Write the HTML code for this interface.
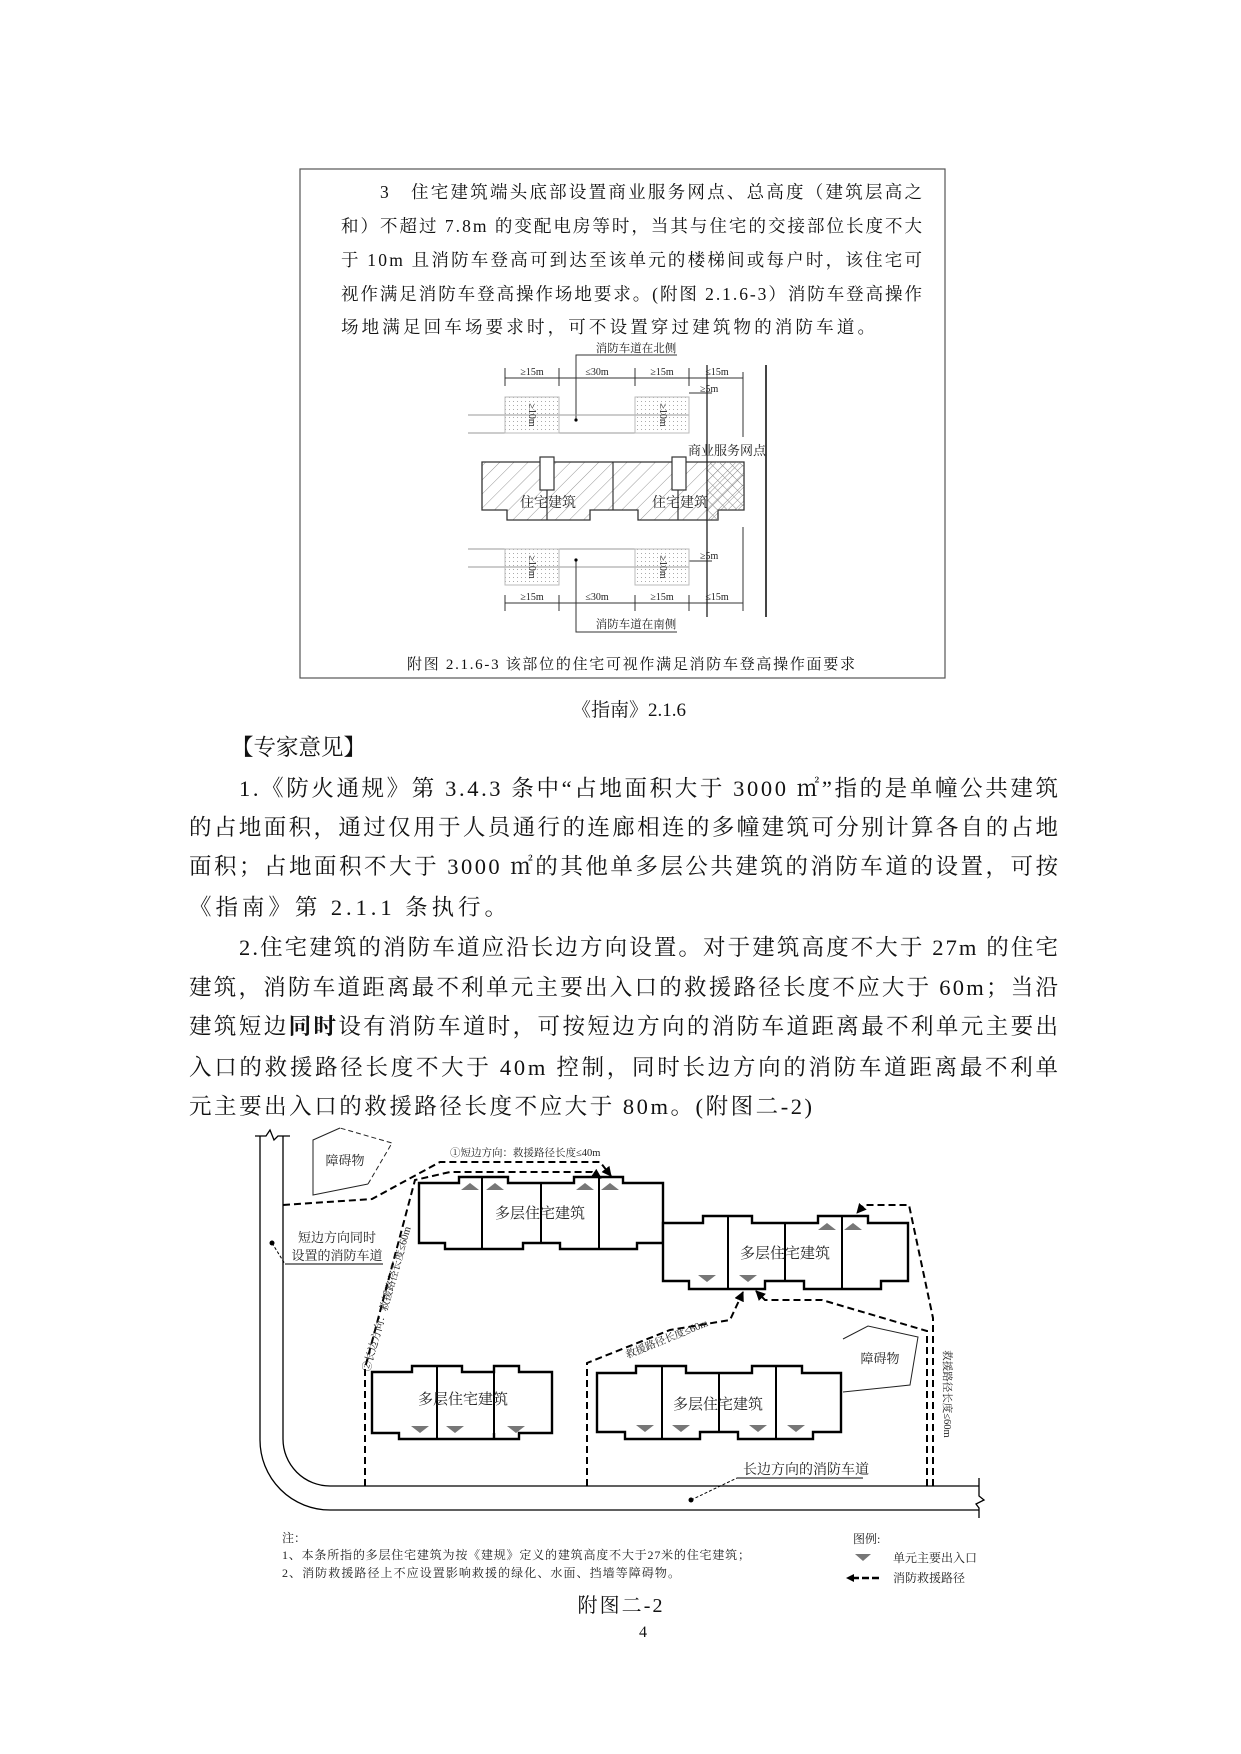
<!DOCTYPE html>
<html><head><meta charset="utf-8"><style>
html,body{margin:0;padding:0;background:#fff;}
svg{display:block;}
.t{font-family:"Liberation Serif","Noto Serif CJK SC",serif;fill:#111;}
.s{font-family:"Liberation Serif","Noto Serif CJK SC",serif;fill:#222;}
</style></head><body>
<svg width="1241" height="1754" viewBox="0 0 1241 1754" xmlns="http://www.w3.org/2000/svg">
<defs>
<pattern id="hatch" width="10" height="10" patternUnits="userSpaceOnUse" patternTransform="rotate(45)">
<line x1="0" y1="0" x2="0" y2="10" stroke="#999" stroke-width="1"/></pattern>
<pattern id="cross" width="7" height="7" patternUnits="userSpaceOnUse" patternTransform="rotate(45)">
<line x1="0" y1="0" x2="0" y2="7" stroke="#888" stroke-width="1"/><line x1="0" y1="0" x2="7" y2="0" stroke="#888" stroke-width="1"/></pattern>
<pattern id="dots" width="4" height="4" patternUnits="userSpaceOnUse">
<rect x="1" y="1" width="1" height="1" fill="#aaa"/></pattern>
<marker id="arr" viewBox="0 0 10 10" refX="9" refY="5" markerWidth="5" markerHeight="5" orient="auto">
<path d="M0,0 L10,5 L0,10 Z" fill="#000"/></marker>
</defs>

<rect x="300" y="169" width="645" height="509" fill="none" stroke="#555" stroke-width="1.2"/>
<g class="t" font-size="17.5">
<text x="380" y="198">3</text>
<text x="411" y="198" textLength="511" lengthAdjust="spacing">住宅建筑端头底部设置商业服务网点、总高度（建筑层高之</text>
<text x="341" y="232" textLength="581" lengthAdjust="spacing">和）不超过 7.8m 的变配电房等时，当其与住宅的交接部位长度不大</text>
<text x="341" y="266" textLength="581" lengthAdjust="spacing">于 10m 且消防车登高可到达至该单元的楼梯间或每户时，该住宅可</text>
<text x="341" y="300" textLength="581" lengthAdjust="spacing">视作满足消防车登高操作场地要求。(附图 2.1.6-3）消防车登高操作</text>
<text x="341" y="333" textLength="534" lengthAdjust="spacing">场地满足回车场要求时，可不设置穿过建筑物的消防车道。</text>
</g>

<g stroke="#333" fill="none" stroke-width="1">
<polyline points="576,420 576,355 677,355"/>
<line x1="505" y1="378" x2="743" y2="378"/>
<line x1="505" y1="368" x2="505" y2="386"/><line x1="559" y1="368" x2="559" y2="386"/>
<line x1="635" y1="368" x2="635" y2="386"/><line x1="689" y1="368" x2="689" y2="386"/>
<line x1="743" y1="372" x2="743" y2="437"/>
<line x1="689" y1="393" x2="712" y2="393"/>
<line x1="468" y1="415" x2="689" y2="415" stroke="#999"/>
<line x1="468" y1="433" x2="689" y2="433" stroke="#999"/>
<line x1="468" y1="549" x2="689" y2="549" stroke="#999"/>
<line x1="468" y1="567" x2="689" y2="567" stroke="#999"/>
<line x1="505" y1="603" x2="743" y2="603"/>
<line x1="505" y1="595" x2="505" y2="611"/><line x1="559" y1="595" x2="559" y2="611"/>
<line x1="635" y1="595" x2="635" y2="611"/><line x1="689" y1="595" x2="689" y2="611"/>
<line x1="743" y1="527" x2="743" y2="611"/>
<line x1="689" y1="561" x2="712" y2="561"/>
<polyline points="576,560 576,632 677,632"/>
</g>
<g stroke="#bbb" stroke-width="1">
<rect x="505" y="397" width="54" height="36" fill="url(#dots)"/>
<rect x="635" y="397" width="54" height="36" fill="url(#dots)"/>
<rect x="505" y="549" width="54" height="36" fill="url(#dots)"/>
<rect x="635" y="549" width="54" height="36" fill="url(#dots)"/>
</g>
<circle cx="576" cy="420" r="1.6" fill="#000"/><circle cx="576" cy="560" r="1.6" fill="#000"/>
<path d="M482,462 H744 V510 H718 V520 H638 V510 H590 V520 H507 V510 H482 Z" fill="url(#hatch)" stroke="#333" stroke-width="1.3"/>
<path d="M707,462 H744 V510 H718 V520 H707 Z" fill="url(#cross)" stroke="none"/>
<g stroke="#333" stroke-width="1.2" fill="#fff">
<line x1="613" y1="462" x2="613" y2="510"/>
<rect x="540" y="457" width="14" height="33"/>
<rect x="672" y="457" width="14" height="33"/>
<line x1="547" y1="490" x2="547" y2="520"/>
<line x1="678" y1="490" x2="678" y2="520"/>
</g>
<line x1="707" y1="365" x2="707" y2="617" stroke="#222" stroke-width="1.3"/>
<line x1="766" y1="365" x2="766" y2="617" stroke="#444" stroke-width="2"/>
<g class="s" font-size="11.5">
<text x="636" y="352" text-anchor="middle">消防车道在北侧</text>
<text x="636" y="628" text-anchor="middle">消防车道在南侧</text>
<text x="532" y="375" text-anchor="middle" font-size="10">≥15m</text>
<text x="597" y="375" text-anchor="middle" font-size="10">≤30m</text>
<text x="662" y="375" text-anchor="middle" font-size="10">≥15m</text>
<text x="717" y="375" text-anchor="middle" font-size="10">≤15m</text>
<text x="532" y="600" text-anchor="middle" font-size="10">≥15m</text>
<text x="597" y="600" text-anchor="middle" font-size="10">≤30m</text>
<text x="662" y="600" text-anchor="middle" font-size="10">≥15m</text>
<text x="717" y="600" text-anchor="middle" font-size="10">≤15m</text>
<text x="700" y="392" font-size="10">≥5m</text>
<text x="700" y="559" font-size="10">≥5m</text>
<text x="727" y="455" text-anchor="middle" font-size="13">商业服务网点</text>
<text x="548" y="507" text-anchor="middle" font-size="14">住宅建筑</text>
<text x="680" y="507" text-anchor="middle" font-size="14">住宅建筑</text>
<text transform="translate(529,415) rotate(90)" text-anchor="middle" font-size="10">≥10m</text>
<text transform="translate(660,415) rotate(90)" text-anchor="middle" font-size="10">≥10m</text>
<text transform="translate(529,567) rotate(90)" text-anchor="middle" font-size="10">≥10m</text>
<text transform="translate(660,567) rotate(90)" text-anchor="middle" font-size="10">≥10m</text>
</g>
<text class="t" x="407" y="669" font-size="15" textLength="448" lengthAdjust="spacing">附图 2.1.6-3  该部位的住宅可视作满足消防车登高操作面要求</text>

<text class="t" x="629" y="716" font-size="19" text-anchor="middle">《指南》2.1.6</text>

<g class="t" font-size="22.5">
<text x="231" y="755">【专家意见】</text>
<text x="239" y="796" textLength="819" lengthAdjust="spacing">1.《防火通规》第 3.4.3 条中“占地面积大于 3000 ㎡”指的是单幢公共建筑</text>
<text x="189" y="835" textLength="869" lengthAdjust="spacing">的占地面积，通过仅用于人员通行的连廊相连的多幢建筑可分别计算各自的占地</text>
<text x="189" y="874" textLength="869" lengthAdjust="spacing">面积；占地面积不大于 3000 ㎡的其他单多层公共建筑的消防车道的设置，可按</text>
<text x="189" y="915" textLength="318" lengthAdjust="spacing">《指南》第 2.1.1 条执行。</text>
<text x="239" y="955" textLength="819" lengthAdjust="spacing">2.住宅建筑的消防车道应沿长边方向设置。对于建筑高度不大于 27m 的住宅</text>
<text x="189" y="995" textLength="869" lengthAdjust="spacing">建筑，消防车道距离最不利单元主要出入口的救援路径长度不应大于 60m；当沿</text>
<text x="189" y="1034" textLength="869" lengthAdjust="spacing">建筑短边<tspan font-weight="bold">同时</tspan>设有消防车道时，可按短边方向的消防车道距离最不利单元主要出</text>
<text x="189" y="1075" textLength="869" lengthAdjust="spacing">入口的救援路径长度不大于 40m 控制，同时长边方向的消防车道距离最不利单</text>
<text x="189" y="1114" textLength="623" lengthAdjust="spacing">元主要出入口的救援路径长度不应大于 80m。(附图二-2)</text>
</g>

<g fill="none" stroke="#000" stroke-width="1.3">
<path d="M260,1136 V1440 A70,70 0 0 0 330,1510 H979"/>
<path d="M283,1136 V1439 A47,47 0 0 0 330,1486 H979"/>
<path d="M255,1136 H266 L270,1130 L274,1140 L278,1136 H290"/>
<path d="M979,1478 V1496 L984,1500 L976,1504 L979,1508 V1518"/>
</g>
<g fill="none" stroke="#222" stroke-width="1">
<polyline points="340,1128 313,1140 313,1195 368,1184"/>
<polyline points="368,1184 392,1143 340,1128" stroke-dasharray="5 3"/>
<polyline points="843,1339 868,1326 918,1337 910,1385 843,1392"/>
</g>
<g fill="#fff" stroke="#000" stroke-width="2.4">
<path d="M419,1183 H459 V1177 H508 V1183 H574 V1177 H623 V1183 H663 V1243 H637 V1249 H560 V1243 H523 V1249 H445 V1243 H419 Z"/>
<path d="M663,1223 H703 V1216 H752 V1223 H818 V1216 H868 V1223 H908 V1281 H881 V1289 H804 V1281 H765 V1289 H689 V1281 H663 Z"/>
<path d="M372,1372 H412 V1366 H462 V1372 H494 V1366 H519 V1372 H552 V1433 H519 V1439 H494 V1433 H494 V1439 H399 V1433 H372 Z"/>
<path d="M597,1373 H636 V1366 H686 V1373 H752 V1366 H802 V1373 H841 V1432 H813 V1439 H738 V1432 H700 V1439 H625 V1432 H597 Z"/>
</g>
<g stroke="#000" stroke-width="2">
<line x1="482" y1="1177" x2="482" y2="1249"/><line x1="541" y1="1183" x2="541" y2="1243"/><line x1="599" y1="1177" x2="599" y2="1249"/>
<line x1="728" y1="1216" x2="728" y2="1289"/><line x1="785" y1="1223" x2="785" y2="1281"/><line x1="842" y1="1216" x2="842" y2="1289"/>
<line x1="437" y1="1366" x2="437" y2="1439"/><line x1="494" y1="1366" x2="494" y2="1439"/>
<line x1="662" y1="1366" x2="662" y2="1439"/><line x1="719" y1="1373" x2="719" y2="1432"/><line x1="776" y1="1366" x2="776" y2="1439"/>
</g>
<g fill="#777">
<path d="M461,1190 h18 l-9,-7 z"/><path d="M486,1190 h18 l-9,-7 z"/>
<path d="M576,1190 h18 l-9,-7 z"/><path d="M601,1190 h18 l-9,-7 z"/>
<path d="M818,1230 h18 l-9,-7 z"/><path d="M844,1230 h18 l-9,-7 z"/>
<path d="M698,1275 h18 l-9,7 z"/><path d="M739,1275 h18 l-9,7 z"/>
<path d="M411,1426 h18 l-9,7 z"/><path d="M446,1426 h18 l-9,7 z"/><path d="M507,1426 h18 l-9,7 z"/>
<path d="M636,1425 h18 l-9,7 z"/><path d="M672,1425 h18 l-9,7 z"/><path d="M749,1425 h18 l-9,7 z"/><path d="M787,1425 h18 l-9,7 z"/>
</g>
<g fill="none" stroke="#000" stroke-width="2" stroke-dasharray="7 4">
<path d="M283,1205 L372,1199 L440,1162 L600,1162 L611,1176" marker-end="url(#arr)"/>
<path d="M365,1486 V1368 L415,1180 L450,1172 L592,1172 L601,1178" marker-end="url(#arr)"/>
<path d="M933,1486 V1318 L909,1205 L864,1205 L857,1213" marker-end="url(#arr)"/>
<path d="M927,1486 V1331 L822,1300 L765,1300 L756,1291" marker-end="url(#arr)"/>
<path d="M587,1486 V1363 L670,1330 L730,1320 L743,1292" marker-end="url(#arr)"/>
</g>
<g stroke="#000" stroke-width="1" fill="none">
<polyline points="272,1243 285,1264" stroke-dasharray="3 2"/>
<line x1="285" y1="1264" x2="383" y2="1264"/>
<polyline points="691,1500 737,1478" stroke-dasharray="3 2"/>
<line x1="737" y1="1478" x2="863" y2="1478"/>
</g>
<circle cx="272" cy="1243" r="2.5" fill="#000"/><circle cx="691" cy="1500" r="2.5" fill="#000"/>
<g class="s" font-size="15">
<text x="540" y="1218" text-anchor="middle">多层住宅建筑</text>
<text x="785" y="1258" text-anchor="middle">多层住宅建筑</text>
<text x="463" y="1404" text-anchor="middle">多层住宅建筑</text>
<text x="718" y="1409" text-anchor="middle">多层住宅建筑</text>
<text x="345" y="1165" text-anchor="middle" font-size="13">障碍物</text>
<text x="880" y="1363" text-anchor="middle" font-size="13">障碍物</text>
<text x="337" y="1242" text-anchor="middle" font-size="13">短边方向同时</text>
<text x="337" y="1260" text-anchor="middle" font-size="13">设置的消防车道</text>
<text x="806" y="1474" text-anchor="middle" font-size="14">长边方向的消防车道</text>
<text x="450" y="1156" font-size="10.5">①短边方向：救援路径长度≤40m</text>
<text transform="translate(390,1300) rotate(-74)" text-anchor="middle" font-size="10.5">②长边方向：救援路径长度≤60m</text>
<text transform="translate(668,1342) rotate(-22)" text-anchor="middle" font-size="10.5">救援路径长度≤60m</text>
<text transform="translate(944,1394) rotate(90)" text-anchor="middle" font-size="10.5">救援路径长度≤60m</text>
</g>
<g class="s" font-size="12">
<text x="282" y="1542">注：</text>
<text x="282" y="1559" textLength="468" lengthAdjust="spacing">1、本条所指的多层住宅建筑为按《建规》定义的建筑高度不大于27米的住宅建筑；</text>
<text x="282" y="1577" textLength="398" lengthAdjust="spacing">2、消防救援路径上不应设置影响救援的绿化、水面、挡墙等障碍物。</text>
<text x="853" y="1543">图例:</text>
<text x="893" y="1562">单元主要出入口</text>
<text x="893" y="1582">消防救援路径</text>
</g>
<path d="M855,1554 h16 l-8,7 z" fill="#777"/>
<line x1="852" y1="1578" x2="882" y2="1578" stroke="#000" stroke-width="2.5" stroke-dasharray="7 3"/>
<path d="M846,1578 l8,-4 v8 z" fill="#000"/>

<text class="t" x="620" y="1612" font-size="20" text-anchor="middle" textLength="85" lengthAdjust="spacing">附图二-2</text>
<text class="t" x="643" y="1637" font-size="16" text-anchor="middle">4</text>
</svg>
</body></html>
